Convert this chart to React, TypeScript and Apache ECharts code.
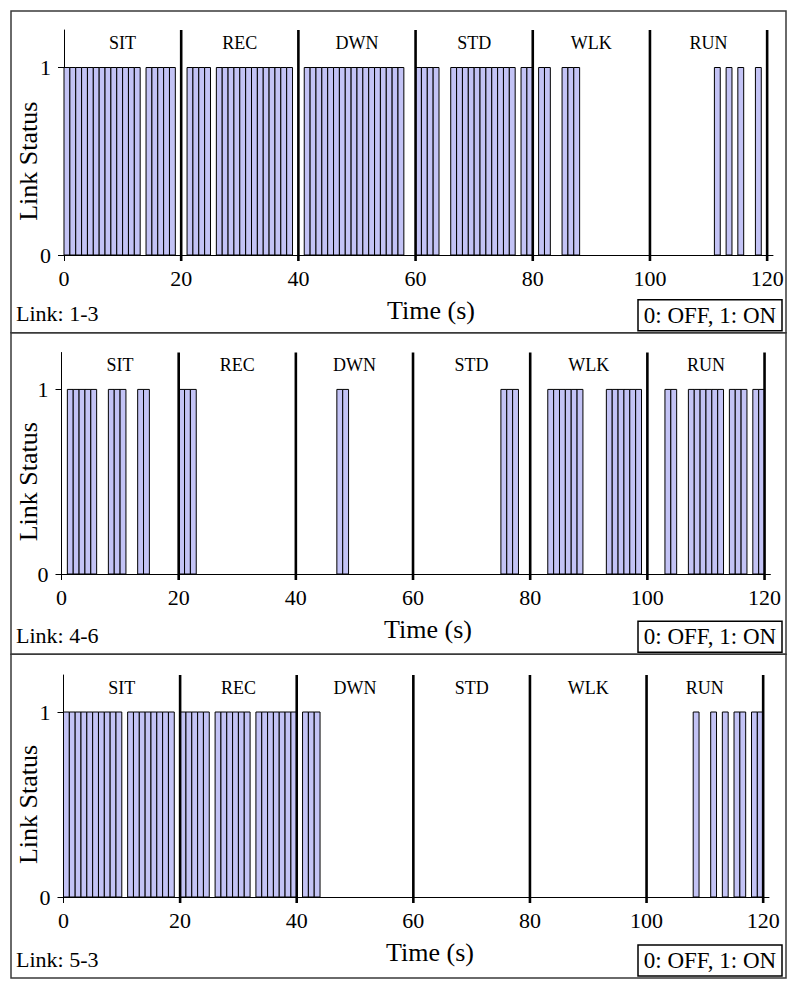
import React, { useEffect, useRef } from "react";
import * as echarts from "echarts";

const LINK_NAMES = ["Link: 1-3", "Link: 4-6", "Link: 5-3"];
const ACTIVITIES = ["SIT", "REC", "DWN", "STD", "WLK", "RUN"];
const ACTIVITY_CENTERS = [10, 30, 50, 70, 90, 110];
const ACTIVITY_BOUNDS = [20, 40, 60, 80, 100, 120];
const X_TICKS = [0, 20, 40, 60, 80, 100, 120];
const Y_TICKS = [0, 1];
const X_TITLE = "Time (s)";
const Y_TITLE = "Link Status";
const LEGEND_TEXT = "0: OFF, 1: ON";

// start second of each 1-s interval in which the link is ON (status 1)
const LINK_1_3_ON = [
  0, 1, 2, 3, 4, 5, 6, 7, 8, 9, 10, 11, 12,
  14, 15, 16, 17, 18,
  21, 22, 23, 24,
  26, 27, 28, 29, 30, 31, 32, 33, 34, 35, 36, 37, 38,
  41, 42, 43, 44, 45, 46, 47, 48, 49, 50, 51, 52, 53, 54, 55, 56, 57,
  60, 61, 62, 63,
  66, 67, 68, 69, 70, 71, 72, 73, 74, 75, 76,
  78, 79,
  81, 82,
  85, 86, 87,
  111, 113, 115, 118,
];
const LINK_4_6_ON = [
  1, 2, 3, 4, 5,
  8, 9, 10,
  13, 14,
  20, 21, 22,
  47, 48,
  75, 76, 77,
  83, 84, 85, 86, 87, 88,
  93, 94, 95, 96, 97, 98,
  103, 104,
  107, 108, 109, 110, 111, 112,
  114, 115, 116,
  118, 119,
];
const LINK_5_3_ON = [
  0, 1, 2, 3, 4, 5, 6, 7, 8, 9,
  11, 12, 13, 14, 15, 16, 17, 18,
  20, 21, 22, 23, 24,
  26, 27, 28, 29, 30, 31,
  33, 34, 35, 36, 37, 38, 39,
  41, 42, 43,
  108, 111, 113, 115, 116, 118, 119,
];
const SERIES_ON = [LINK_1_3_ON, LINK_4_6_ON, LINK_5_3_ON];

const FONT = '"Liberation Serif", "Times New Roman", serif';
const BAR_FILL = "#c3c3f5";

const PANELS = [
  { frameTop: 11, frameBottom: 332.7, left: 64, top: 30, right: 773, bottom: 255, timeX: 431 },
  { frameTop: 332.7, frameBottom: 654.3, left: 61.5, top: 352.5, right: 770.4, bottom: 574, timeX: 428 },
  { frameTop: 654.3, frameBottom: 978, left: 63.5, top: 675, right: 769, bottom: 897, timeX: 430 },
];

function buildOption() {
  const grid = PANELS.map((p) => ({
    left: p.left,
    top: p.top,
    width: p.right - p.left,
    height: p.bottom - p.top,
    containLabel: false,
    outerBoundsMode: "none",
  }));

  const xAxis = PANELS.map((_, i) => ({
    type: "value",
    gridIndex: i,
    min: 0,
    max: 121,
    interval: 20,
    axisLine: { show: true, onZero: false, lineStyle: { color: "#000", width: 1 } },
    axisTick: { show: true, customValues: X_TICKS, length: 6, lineStyle: { color: "#000", width: 1 } },
    axisLabel: { customValues: X_TICKS, fontFamily: FONT, fontSize: 22, color: "#000", margin: 12 },
    splitLine: { show: false },
  }));

  const yAxis = PANELS.map((_, i) => ({
    type: "value",
    gridIndex: i,
    min: 0,
    max: 1.2,
    interval: 1,
    axisLine: { show: true, onZero: false, lineStyle: { color: "#000", width: 1 } },
    axisTick: { show: true, customValues: Y_TICKS, length: 6, lineStyle: { color: "#000", width: 1 } },
    axisLabel: { customValues: Y_TICKS, fontFamily: FONT, fontSize: 22, color: "#000", margin: 13 },
    splitLine: { show: false },
  }));

  const series: any[] = [];
  PANELS.forEach((_, i) => {
    series.push({
      type: "custom",
      xAxisIndex: i,
      yAxisIndex: i,
      z: 2,
      data: SERIES_ON[i].map((t) => [t, 1]),
      renderItem: (params: any, api: any) => {
        const t = api.value(0);
        const p0 = api.coord([t, api.value(1)]);
        const p1 = api.coord([t + 1, 0]);
        return {
          type: "rect",
          shape: { x: p0[0], y: p0[1], width: p1[0] - p0[0], height: p1[1] - p0[1] },
          style: { fill: BAR_FILL, stroke: "#000", lineWidth: 1 },
        };
      },
    });
    series.push({
      type: "custom",
      xAxisIndex: i,
      yAxisIndex: i,
      z: 4,
      clip: false,
      data: ACTIVITY_BOUNDS.map((x) => [x, 1.2]),
      renderItem: (params: any, api: any) => {
        const x = api.value(0);
        const top = api.coord([x, api.value(1)]);
        const bot = api.coord([x, 0]);
        return {
          type: "line",
          shape: { x1: top[0], y1: top[1], x2: bot[0], y2: bot[1] + 6 },
          style: { stroke: "#000", lineWidth: 2.6 },
        };
      },
    });
    series.push({
      type: "custom",
      xAxisIndex: i,
      yAxisIndex: i,
      z: 5,
      clip: false,
      data: ACTIVITY_CENTERS.map((c) => [c, 1.13]),
      renderItem: (params: any, api: any) => {
        const pt = api.coord([api.value(0), api.value(1)]);
        return {
          type: "text",
          x: pt[0],
          y: pt[1],
          style: {
            text: ACTIVITIES[params.dataIndex],
            fill: "#000",
            fontSize: 18,
            fontFamily: FONT,
            align: "center",
            verticalAlign: "middle",
          },
        };
      },
    });
  });

  const graphic: any[] = [];
  PANELS.forEach((p, i) => {
    graphic.push({
      type: "rect",
      shape: { x: 11, y: p.frameTop, width: 775, height: p.frameBottom - p.frameTop },
      style: { fill: "none", stroke: "#3a3a3a", lineWidth: 1.5 },
      z: 1,
    });
    graphic.push({
      type: "text",
      x: 16,
      y: p.frameBottom - 19,
      style: {
        text: LINK_NAMES[i],
        fill: "#000",
        fontSize: 22,
        fontFamily: FONT,
        align: "left",
        verticalAlign: "middle",
        textAlign: "left",
        textVerticalAlign: "middle",
      },
      z: 10,
    });
    graphic.push({
      type: "text",
      x: p.timeX,
      y: p.bottom + 55,
      style: {
        text: X_TITLE,
        fill: "#000",
        fontSize: 26,
        fontFamily: FONT,
        align: "center",
        verticalAlign: "middle",
        textAlign: "center",
        textVerticalAlign: "middle",
      },
      z: 10,
    });
    const oneY = p.bottom - (p.bottom - p.top) / 1.2;
    graphic.push({
      type: "text",
      x: 28,
      y: (oneY + p.bottom) / 2,
      rotation: Math.PI / 2,
      style: {
        text: Y_TITLE,
        fill: "#000",
        fontSize: 26,
        fontFamily: FONT,
        align: "center",
        verticalAlign: "middle",
        textAlign: "center",
        textVerticalAlign: "middle",
      },
      z: 10,
    });
    graphic.push({
      type: "rect",
      shape: { x: 638, y: p.frameBottom - 33, width: 144, height: 31 },
      style: { fill: "#fff", stroke: "#000", lineWidth: 1.5 },
      z: 10,
    });
    graphic.push({
      type: "text",
      x: 710,
      y: p.frameBottom - 17.5,
      style: {
        text: LEGEND_TEXT,
        fill: "#000",
        fontSize: 23,
        fontFamily: FONT,
        align: "center",
        verticalAlign: "middle",
        textAlign: "center",
        textVerticalAlign: "middle",
      },
      z: 11,
    });
  });

  return {
    animation: false,
    backgroundColor: "#fff",
    grid,
    xAxis,
    yAxis,
    series,
    graphic,
  };
}

export default function App() {
  const ref = useRef<HTMLDivElement>(null);
  useEffect(() => {
    if (!ref.current) return;
    const chart = echarts.init(ref.current, undefined, { renderer: "svg" });
    chart.setOption(buildOption() as any);
    return () => chart.dispose();
  }, []);
  return (
    <div
      ref={ref}
      style={{ position: "absolute", left: 0, top: 0, width: 795, height: 990, background: "#fff" }}
    />
  );
}
